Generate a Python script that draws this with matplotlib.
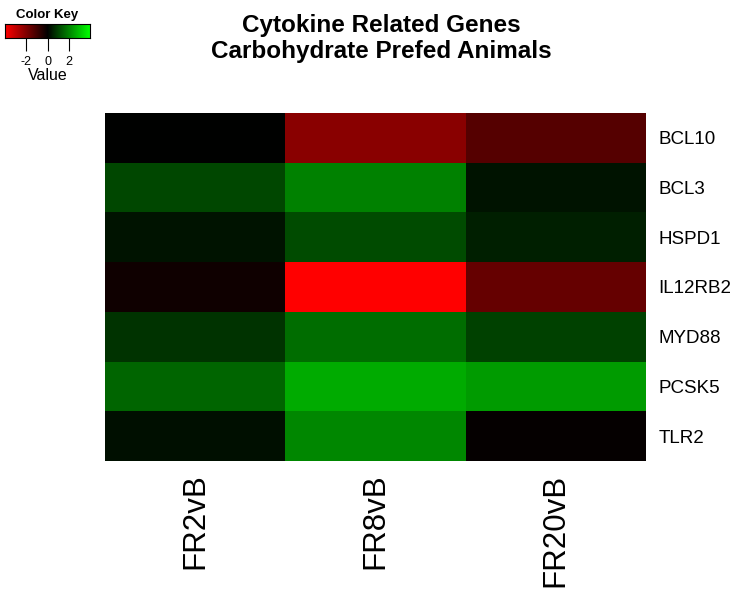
import numpy as np
import matplotlib.pyplot as plt
from matplotlib.colors import LinearSegmentedColormap

plt.rcParams['font.family'] = ['Liberation Sans', 'DejaVu Sans']

# Data (log fold change)
genes = ["BCL10", "BCL3", "HSPD1", "IL12RB2", "MYD88", "PCSK5", "TLR2"]
conditions = ["FR2vB", "FR8vB", "FR20vB"]
fr2vb = [0.0, 1.1, 0.3, -0.24, 0.8, 1.57, 0.24]
fr8vb = [-2.13, 2.0, 1.18, -4.0, 1.7, 2.67, 2.1]
fr20vb = [-1.33, 0.3, 0.47, -1.57, 1.0, 2.43, -0.08]

key_ticks = [-2, 0, 2]
vmin, vmax = -4.0, 4.0


def main():
    values = np.array([fr2vb, fr8vb, fr20vb]).T
    cmap = LinearSegmentedColormap.from_list(
        "redgreen", [(1, 0, 0), (0, 0, 0), (0, 1, 0)])

    fig = plt.figure(figsize=(7.39, 5.94), dpi=100)

    # main heatmap
    ax = fig.add_axes([0.1421, 0.2239, 0.7321, 0.5859])
    ax.pcolormesh(values, cmap=cmap, vmin=vmin, vmax=vmax)
    ax.set_xlim(0, len(conditions))
    ax.set_ylim(len(genes), 0)
    for s in ax.spines.values():
        s.set_visible(False)
    ax.set_xticks(np.arange(len(conditions)) + 0.5)
    ax.set_xticklabels(conditions, rotation=90, fontsize=22.5)
    ax.set_yticks(np.arange(len(genes)) + 0.5)
    ax.set_yticklabels(genes, fontsize=13.5)
    ax.yaxis.tick_right()
    ax.tick_params(axis="y", length=0, pad=9)
    ax.tick_params(axis="x", length=0, pad=9)

    fig.text(0.516, 0.977, "Cytokine Related Genes\nCarbohydrate Prefed Animals",
             ha="center", va="top", fontsize=17.5, fontweight="bold",
             linespacing=1.2)

    # color key
    kax = fig.add_axes([0.0068, 0.936, 0.115, 0.0236])
    grad = np.linspace(vmin, vmax, 256).reshape(1, -1)
    kax.pcolormesh(np.linspace(vmin, vmax, 257), [0, 1], grad,
                   cmap=cmap, vmin=vmin, vmax=vmax)
    kax.set_xlim(vmin, vmax)
    kax.set_yticks([])
    kax.set_xticks(key_ticks)
    kax.set_xticklabels([str(t) for t in key_ticks], fontsize=9)
    kax.tick_params(axis="x", length=9, pad=4)
    kax.set_xlabel("Value", fontsize=11.5, labelpad=0)
    kax.set_title("Color Key", fontsize=9.5, fontweight="bold", pad=4)

    fig.savefig("out.png", dpi=100)


if __name__ == "__main__":
    main()
